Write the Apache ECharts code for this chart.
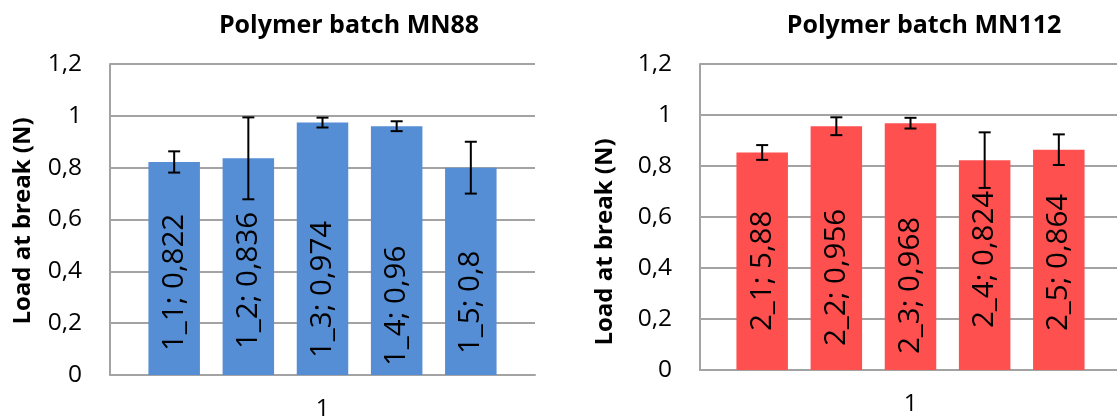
<!DOCTYPE html>
<html>
<head>
<meta charset="utf-8">
<script src="https://cdn.jsdelivr.net/npm/echarts@6/dist/echarts.min.js"></script>
<style>
html,body{margin:0;padding:0;background:#fff;}
#c{width:1117px;height:419px;}
</style>
</head>
<body>
<div id="c"></div>
<script>
// ---- data ----
const categories = ['1'];
const yTickLabels = ['0', '0,2', '0,4', '0,6', '0,8', '1', '1,2'];

const titleA = 'Polymer batch MN88';
const namesA = ['1_1', '1_2', '1_3', '1_4', '1_5'];
const valuesA = [0.822, 0.836, 0.974, 0.96, 0.8];
const labelValuesA = ['0,822', '0,836', '0,974', '0,96', '0,8'];
const errorsA = [0.041, 0.158, 0.019, 0.019, 0.1];

const titleB = 'Polymer batch MN112';
const namesB = ['2_1', '2_2', '2_3', '2_4', '2_5'];
const valuesB = [0.853, 0.956, 0.968, 0.823, 0.864];
const labelValuesB = ['5,88', '0,956', '0,968', '0,824', '0,864'];
const errorsB = [0.029, 0.035, 0.021, 0.109, 0.06];

const yTitle = 'Load at break (N)';

// ---- layout (not data) ----
const BAR_W = 51.5;
const BAR_GAP = 0.44;
const labelDistA = [24, 26, 17, 9, 21];
const labelDistB = [39, 24, 16, 42, 39];
const FONT = '"Open Sans", "Noto Sans", sans-serif';
const GRID_COLOR = '#a3a3a3';

const chart = echarts.init(document.getElementById('c'), null, {renderer: 'canvas'});

function barSeries(names, values, labelValues, dists, color, gi) {
  return names.map((n, i) => ({
    type: 'bar',
    name: n,
    xAxisIndex: gi,
    yAxisIndex: gi,
    barWidth: BAR_W,
    barGap: (BAR_GAP * 100) + '%',
    data: [values[i]],
    itemStyle: {color: color},
    animation: false,
    label: {
      show: true,
      position: 'insideBottom',
      distance: dists[i],
      rotate: 90,
      align: 'left',
      verticalAlign: 'middle',
      fontFamily: FONT,
      fontSize: 29.5,
      color: '#000',
      formatter: () => n + '; ' + labelValues[i]
    },
    z: 2
  }));
}

function errorSeries(values, errors, gi) {
  const n = values.length;
  return {
    type: 'custom',
    xAxisIndex: gi,
    yAxisIndex: gi,
    animation: false,
    silent: true,
    z: 5,
    data: values.map((v, i) => [0, v, errors[i], i]),
    renderItem: function (params, api) {
      const v = api.value(1), e = api.value(2), i = api.value(3);
      const center = api.coord([0, v])[0];
      const step = BAR_W * (1 + BAR_GAP);
      const total = n * BAR_W + (n - 1) * BAR_GAP * BAR_W;
      const x = center - total / 2 + i * step + BAR_W / 2;
      const yTop = api.coord([0, v + e])[1];
      const yBot = api.coord([0, v - e])[1];
      const cap = 6;
      const st = {stroke: '#000', lineWidth: 2};
      return {
        type: 'group',
        children: [
          {type: 'line', shape: {x1: x, y1: yTop, x2: x, y2: yBot}, style: st},
          {type: 'line', shape: {x1: x - cap, y1: yTop, x2: x + cap, y2: yTop}, style: st},
          {type: 'line', shape: {x1: x - cap, y1: yBot, x2: x + cap, y2: yBot}, style: st}
        ]
      };
    }
  };
}

function xAxis(gi) {
  return {
    type: 'category',
    gridIndex: gi,
    data: categories,
    axisLine: {show: true, lineStyle: {color: GRID_COLOR, width: 2}},
    axisTick: {show: false},
    axisLabel: {fontFamily: FONT, fontSize: 24, color: '#000', margin: 22}
  };
}

function yAxis(gi) {
  return {
    type: 'value',
    gridIndex: gi,
    min: 0, max: 1.2, interval: 0.2,
    axisLine: {show: true, lineStyle: {color: GRID_COLOR, width: 2}},
    axisTick: {show: false},
    splitLine: {show: true, lineStyle: {color: GRID_COLOR, width: 2}},
    axisLabel: {
      fontFamily: FONT, fontSize: 24.5, color: '#000', margin: 28,
      formatter: (val, idx) => yTickLabels[idx]
    }
  };
}

const option = {
  backgroundColor: '#fff',
  animation: false,
  title: [
    {text: titleA, left: 344, top: 8, textAlign: 'center',
     textStyle: {fontFamily: FONT, fontSize: 25, fontWeight: 'bold', color: '#000'}},
    {text: titleB, left: 919, top: 8, textAlign: 'center',
     textStyle: {fontFamily: FONT, fontSize: 25, fontWeight: 'bold', color: '#000'}}
  ],
  grid: [
    {left: 110, top: 64, width: 425, height: 311, containLabel: false, outerBoundsMode: 'none'},
    {left: 700, top: 64, width: 421, height: 306, containLabel: false, outerBoundsMode: 'none'}
  ],
  xAxis: [xAxis(0), xAxis(1)],
  yAxis: [yAxis(0), yAxis(1)],
  graphic: [
    {type: 'text', x: 23, y: 221, rotation: Math.PI / 2,
     style: {text: yTitle, fontFamily: FONT, fontSize: 24, fontWeight: 'bold', fill: '#000',
             align: 'center', verticalAlign: 'middle'}},
    {type: 'text', x: 605, y: 242, rotation: Math.PI / 2,
     style: {text: yTitle, fontFamily: FONT, fontSize: 24, fontWeight: 'bold', fill: '#000',
             align: 'center', verticalAlign: 'middle'}}
  ],
  series: [
    ...barSeries(namesA, valuesA, labelValuesA, labelDistA, '#558ed5', 0),
    errorSeries(valuesA, errorsA, 0),
    ...barSeries(namesB, valuesB, labelValuesB, labelDistB, '#ff5050', 1),
    errorSeries(valuesB, errorsB, 1)
  ]
};
chart.setOption(option);
</script>
</body>
</html>
